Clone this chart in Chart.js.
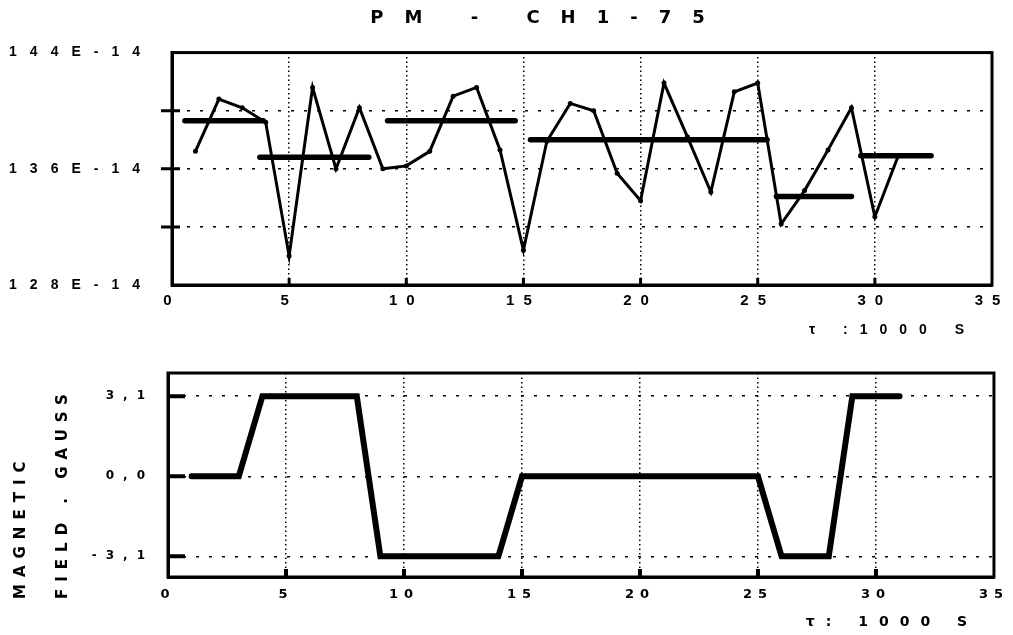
<!DOCTYPE html>
<html>
<head>
<meta charset="utf-8">
<script src="https://cdn.jsdelivr.net/npm/chart.js@4.4.1/dist/chart.umd.min.js"></script>
<style>
  body { margin: 0; background: #fff; }
  #wrap { position: relative; width: 1013px; height: 635px; }
  canvas { position: absolute; left: 0; }
  #topChart { top: 0; }
  #fieldChart { top: 345px; }
</style>
</head>
<body>
<div id="wrap">
  <canvas id="topChart" width="1013" height="345"></canvas>
  <canvas id="fieldChart" width="1013" height="290"></canvas>
</div>
<script>
// ---------------- DATA ----------------
const times = [1, 2, 3, 4, 5, 6, 7, 8, 9, 10, 11, 12, 13, 14, 15, 16,
  17, 18, 19, 20, 21, 22, 23, 24, 25, 26, 27, 28, 29, 30, 31];
const signal = [137.2, 140.8, 140.2, 139.2, 130.0, 141.6, 136.0, 140.2, 136.0, 136.2,
  137.2, 141.0, 141.6, 137.3, 130.4, 137.9, 140.5, 140.0, 135.7, 133.8,
  141.9, 138.2, 134.4, 141.3, 141.9, 132.2, 134.5, 137.3, 140.2, 132.7, 136.9];

// mean level of each field period
const meanStart = [0.55, 3.75, 9.2, 15.3, 25.8, 29.4];
const meanEnd = [3.9, 8.4, 14.65, 25.4, 29.0, 32.4];
const meanLevel = [139.3, 136.8, 139.3, 138.0, 134.1, 136.9];

const signalLabelValues = [128, 136, 144];
const signalLabelTexts = ['128E-14', '136E-14', '144E-14'];

const fieldTimes = [1, 3, 4, 8, 9, 14, 15, 25, 26, 28, 29, 31];
const fieldValues = [0, 0, 3.1, 3.1, -3.1, -3.1, 0, 0, -3.1, -3.1, 3.1, 3.1];
const fieldTickValues = [-3.1, 0, 3.1];
const fieldTickTexts = ['-3,1', '0,0', '3,1'];

// ---------------- PLUGIN ----------------
// frame + inner tick marks, and letter spacing per scale (old typewriter look)
const framePlugin = {
  id: 'frame',
  afterLayout(chart, args, opts) {
    const wrap = (obj, fn, sp) => {
      if (!sp || obj['_sp_' + fn]) return;
      obj['_sp_' + fn] = true;
      const orig = obj[fn].bind(obj);
      obj[fn] = (...a) => {
        const ctx = chart.ctx;
        ctx.save();
        ctx.letterSpacing = sp[0] + 'px';
        ctx.translate(sp[1] || 0, sp[2] || 0);
        orig(...a);
        ctx.restore();
      };
    };
    Object.values(chart.scales).forEach(s => {
      const sp = opts.spacing[s.id] || {};
      wrap(s, 'drawLabels', sp.labels);
      wrap(s, 'drawTitle', sp.title);
    });
    if (chart.titleBlock) wrap(chart.titleBlock, 'draw', opts.spacing.title);
  },
  afterDraw(chart, args, opts) {
    const { ctx, chartArea: a, scales: { x, y } } = chart;
    ctx.save();
    ctx.strokeStyle = '#000';
    ctx.lineWidth = 3;
    ctx.strokeRect(a.left, a.top, a.right - a.left, a.bottom - a.top);
    ctx.lineWidth = opts.tickWidth;
    ctx.beginPath();
    x.ticks.forEach(t => {
      if (t.value <= x.min || t.value >= x.max) return;
      const px = x.getPixelForValue(t.value);
      ctx.moveTo(px, a.bottom);
      ctx.lineTo(px, a.bottom - opts.xTick);
    });
    y.ticks.forEach(t => {
      if (t.value <= y.min || t.value >= y.max) return;
      const py = y.getPixelForValue(t.value);
      ctx.moveTo(a.left - opts.yOut, py);
      ctx.lineTo(a.left + opts.yIn, py);
    });
    ctx.stroke();
    ctx.restore();
  }
};

const black = '#000';

// ---------------- TOP CHART ----------------
const signalSets = [{
  data: times.map((t, i) => ({ x: t, y: signal[i] })),
  borderColor: black,
  borderWidth: 3,
  pointRadius: 2.5,
  pointBackgroundColor: black,
  pointBorderWidth: 0,
  tension: 0
}];
meanStart.forEach((s, i) => {
  signalSets.push({
    data: [{ x: s, y: meanLevel[i] }, { x: meanEnd[i], y: meanLevel[i] }],
    borderColor: black,
    borderWidth: 5.5,
    borderCapStyle: 'round',
    pointRadius: 0
  });
});

new Chart(document.getElementById('topChart'), {
  type: 'line',
  data: { datasets: signalSets },
  plugins: [framePlugin],
  options: {
    responsive: false,
    animation: false,
    layout: { padding: { left: 0, right: 21, top: 0, bottom: 0 } },
    plugins: {
      legend: { display: false },
      tooltip: { enabled: false },
      title: {
        display: true,
        text: 'PM - CH1-75',
        color: black,
        font: { family: 'DejaVu Sans', size: 18, weight: 'bold' },
        padding: { top: 8, bottom: 23 }
      },
      frame: {
        spacing: { x: { labels: [9], title: [12] }, y: { labels: [13] }, title: [21, 52, 0] },
        tickWidth: 3, xTick: 7, yOut: 11, yIn: 8
      }
    },
    scales: {
      x: {
        type: 'linear', min: 0, max: 35,
        afterFit: s => { s.height = 60; },
        ticks: { stepSize: 5, padding: 7, color: black,
          font: { family: 'Liberation Sans', size: 15, weight: 'bold' } },
        grid: { drawTicks: false, color: black, lineWidth: 1.5 },
        border: { color: black, width: 3, dash: [1.5, 3] },
        title: { display: true, text: 'τ :1000 S ', align: 'end', color: black,
          font: { family: 'Liberation Sans', size: 14, weight: 'bold' },
          padding: { top: 0, bottom: 6 } }
      },
      y: {
        min: 128, max: 144,
        afterFit: s => { s.width = 172; },
        ticks: { stepSize: 4, padding: 19, color: black,
          font: { family: 'Liberation Sans', size: 14, weight: 'bold' },
          callback: v => {
            const i = signalLabelValues.indexOf(v);
            return i < 0 ? '' : signalLabelTexts[i];
          } },
        grid: { drawTicks: false, color: black, lineWidth: 1.5 },
        border: { color: black, width: 3, dash: [3, 10] }
      }
    }
  }
});

// ---------------- FIELD CHART ----------------
new Chart(document.getElementById('fieldChart'), {
  type: 'line',
  data: {
    datasets: [{
      data: fieldTimes.map((t, i) => ({ x: t, y: fieldValues[i] })),
      borderColor: black,
      borderWidth: 6,
      borderCapStyle: 'round',
      borderJoinStyle: 'miter',
      pointRadius: 0,
      tension: 0
    }]
  },
  plugins: [framePlugin],
  options: {
    responsive: false,
    animation: false,
    layout: { padding: { left: 0, right: 16, top: 28, bottom: 0 } },
    plugins: {
      legend: { display: false },
      tooltip: { enabled: false },
      frame: {
        spacing: { x: { labels: [6], title: [11] }, y: { labels: [9], title: [7, 0, 22] } },
        tickWidth: 4, xTick: 8, yOut: 0, yIn: 17
      }
    },
    scales: {
      x: {
        type: 'linear', min: 0, max: 35,
        afterFit: s => { s.height = 58; },
        ticks: { stepSize: 5, padding: 10, color: black,
          font: { family: 'DejaVu Sans', size: 13, weight: 'bold' } },
        grid: { drawTicks: false, color: black, lineWidth: 1.5 },
        border: { color: black, width: 3, dash: [1.5, 3] },
        title: { display: true, text: 'τ: 1000 S ', align: 'end', color: black,
          font: { family: 'DejaVu Sans', size: 14, weight: 'bold' },
          padding: { top: 0, bottom: 4 } }
      },
      y: {
        min: -3.9, max: 4.0,
        afterFit: s => { s.width = 168; },
        afterBuildTicks: s => { s.ticks = fieldTickValues.map(v => ({ value: v })); },
        ticks: { padding: 14, color: black,
          font: { family: 'DejaVu Sans', size: 12, weight: 'bold' },
          callback: v => fieldTickTexts[fieldTickValues.indexOf(v)] },
        grid: { drawTicks: false, color: black, lineWidth: 1.5 },
        border: { color: black, width: 3, dash: [3, 10] },
        title: { display: true, text: ['MAGNETIC', 'FIELD . GAUSS'], align: 'start', color: black,
          font: { family: 'DejaVu Sans', size: 15, weight: 'bold', lineHeight: '42px' },
          padding: { top: 0, bottom: 0 } }
      }
    }
  }
});
</script>
</body>
</html>
